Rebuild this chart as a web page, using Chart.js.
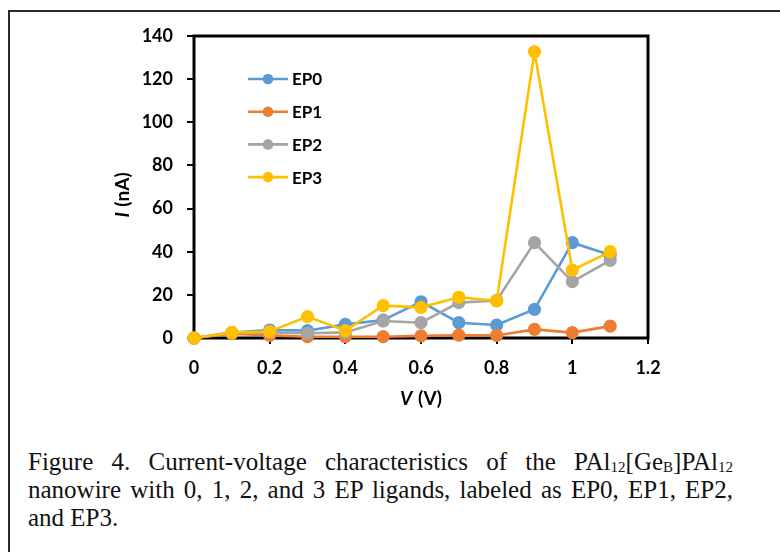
<!DOCTYPE html>
<html><head><meta charset="utf-8">
<script src="https://cdn.jsdelivr.net/npm/chart.js@4"></script>
<style>
html,body{margin:0;padding:0;background:#fff;}
body{width:780px;height:552px;position:relative;overflow:hidden;}
#frame{position:absolute;left:8px;top:10px;width:800px;height:600px;border-left:2px solid #2a2a2a;border-top:2px solid #2a2a2a;}
#wrap{position:absolute;left:0;top:0;width:780px;height:420px;}
.cap{position:absolute;left:28px;top:448px;width:705px;font-family:"Liberation Serif","Times New Roman",serif;font-size:25px;line-height:28px;color:#111;}
.cap .j{text-align:justify;text-align-last:justify;}
.cap sub{font-size:0.6em;vertical-align:-0.1em;line-height:0;}
</style></head>
<body>
<div id="frame"></div>
<div id="wrap"><canvas id="c" width="780" height="420"></canvas></div>
<div class="cap">
<div class="j">Figure 4. Current-voltage characteristics of the PAl<sub>12</sub>[Ge<sub>B</sub>]PAl<sub>12</sub></div>
<div class="j">nanowire with 0, 1, 2, and 3 EP ligands, labeled as EP0, EP1, EP2,</div>
<div>and EP3.</div>
</div>
<script>
const voltages = [0, 0.1, 0.2, 0.3, 0.4, 0.5, 0.6, 0.7, 0.8, 0.9, 1.0, 1.1];
const EP0 = [0, 2.5, 3.7, 3.4, 6.3, 8.3, 16.8, 7.1, 6.0, 13.3, 44.2, 38.5];
const EP1 = [0, 2.0, 1.2, 0.6, 0.6, 0.6, 1.0, 1.3, 1.2, 4.0, 2.5, 5.5];
const EP2 = [0, 2.5, 2.6, 2.2, 2.6, 7.9, 7.1, 16.4, 17.4, 44.2, 26.1, 36.0];
const EP3 = [0, 2.5, 3.0, 9.9, 3.4, 15.0, 14.2, 18.9, 17.2, 132.7, 31.5, 40.0];
const seriesNames = ["EP0", "EP1", "EP2", "EP3"];
const seriesColors = ["#5B9BD5", "#ED7D31", "#A5A5A5", "#FFC000"];
const yTicks = [0, 20, 40, 60, 80, 100, 120, 140];
const xTicks = [0, 0.2, 0.4, 0.6, 0.8, 1, 1.2];
const xTitle = ["V", " (V)"];
const yTitle = ["I", " (nA)"];

const allSeries = [EP0, EP1, EP2, EP3];
const FONT = "Lato";

const datasets = allSeries.map((s, i) => ({
  label: seriesNames[i],
  data: voltages.map((v, k) => ({x: v, y: s[k]})),
  borderColor: seriesColors[i],
  backgroundColor: seriesColors[i],
  pointBackgroundColor: seriesColors[i],
  pointBorderColor: seriesColors[i],
  borderWidth: 2.6,
  pointRadius: 5.3,
  pointHoverRadius: 5.3,
  tension: 0,
  clip: false,
  order: 3 - i
}));

const framePlugin = {
  id: 'frameBox',
  beforeDatasetsDraw(chart) {
    const {ctx, chartArea: a} = chart;
    ctx.save();
    ctx.strokeStyle = '#000';
    ctx.lineWidth = 3;
    ctx.strokeRect(a.left, a.top, a.right - a.left, a.bottom - a.top);
    ctx.restore();
  },
  afterDraw(chart) {
    const {ctx, chartArea: a} = chart;
    function mixed(parts, cx, cy, rot) {
      ctx.save();
      ctx.translate(cx, cy);
      ctx.rotate(rot);
      ctx.fillStyle = '#000';
      ctx.textBaseline = 'middle';
      ctx.textAlign = 'left';
      const f1 = "italic bold 19px " + FONT, f2 = "bold 19px " + FONT;
      ctx.font = f1; const w1 = ctx.measureText(parts[0]).width + 1;
      ctx.font = f2; const w2 = ctx.measureText(parts[1]).width;
      let x = -(w1 + w2) / 2;
      ctx.font = f1; ctx.fillText(parts[0], x, 0);
      ctx.font = f2; ctx.fillText(parts[1], x + w1, 0);
      ctx.restore();
    }
    mixed(xTitle, (a.left + a.right) / 2, 399, 0);
    mixed(yTitle, 123, 195, -Math.PI / 2);
    ctx.save();
    chart.data.datasets.forEach((d, i) => {
      const y = a.top + 43 + i * 32.7;
      const x0 = a.left + 54, x1 = a.left + 94;
      ctx.strokeStyle = d.borderColor;
      ctx.lineWidth = 2.6;
      ctx.beginPath(); ctx.moveTo(x0, y); ctx.lineTo(x1, y); ctx.stroke();
      ctx.fillStyle = d.borderColor;
      ctx.beginPath(); ctx.arc((x0 + x1) / 2, y, 5.3, 0, Math.PI * 2); ctx.fill();
      ctx.fillStyle = '#000';
      ctx.font = "bold 17px " + FONT;
      ctx.textBaseline = 'middle';
      ctx.textAlign = 'left';
      ctx.fillText(d.label, a.left + 98, y + 1);
    });
    ctx.restore();
  }
};

new Chart(document.getElementById('c'), {
  type: 'line',
  data: {datasets},
  options: {
    responsive: false,
    animation: false,
    events: [],
    layout: {padding: {left: 0, top: 36, right: 132, bottom: 0}},
    plugins: {legend: {display: false}, tooltip: {enabled: false}},
    scales: {
      x: {
        type: 'linear', min: 0, max: 1.2,
        afterFit(s) { s.height = 82; },
        afterBuildTicks(s) { s.ticks = xTicks.map(v => ({value: v})); },
        border: {display: false},
        grid: {drawOnChartArea: false, drawTicks: true, tickLength: 6, color: '#000', lineWidth: 2},
        ticks: {padding: 13, color: '#000', font: {family: FONT, weight: 'bold', size: 18},
          callback: v => String(Number(v.toFixed(1)))}
      },
      y: {
        type: 'linear', min: 0, max: 140,
        afterFit(s) { s.width = 194; },
        afterBuildTicks(s) { s.ticks = yTicks.map(v => ({value: v})); },
        border: {display: false},
        grid: {drawOnChartArea: false, drawTicks: true, tickLength: 7, color: '#000', lineWidth: 2},
        ticks: {padding: 14, color: '#000', font: {family: FONT, weight: 'bold', size: 18}}
      }
    }
  },
  plugins: [framePlugin]
});
</script>
</body></html>
